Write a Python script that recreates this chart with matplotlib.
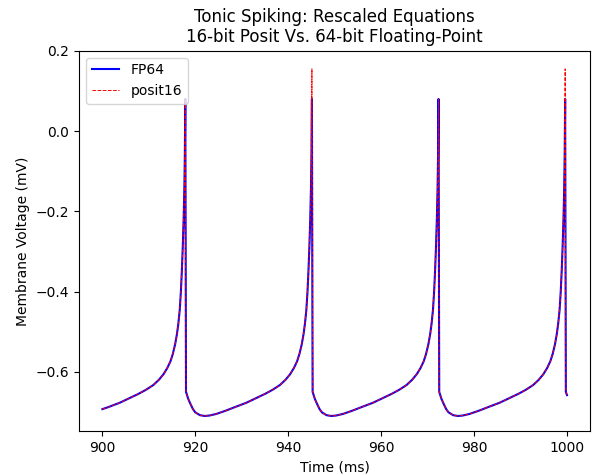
import matplotlib
matplotlib.use('Agg')
import matplotlib.pyplot as plt

# Temps (ms), par cycle (remise à zéro -> pic)
t_debut = [900.0, 901.25, 903.75, 905.75, 907.75, 909.35, 910.95, 912.15, 913.15, 913.95,
           914.65, 915.15, 915.65, 916.05, 916.35, 916.65, 916.9, 917.1, 917.3, 917.5,
           917.65, 917.75, 917.85]
t_cycle1 = [918.0, 918.5, 919.0, 919.5, 920.0, 921.0, 922.0, 923.0, 924.5, 926.5,
            928.5, 931.0, 933.0, 935.0, 936.6, 938.2, 939.4, 940.4, 941.2, 941.9,
            942.4, 942.9, 943.3, 943.6, 943.9, 944.15, 944.35, 944.55, 944.75, 944.9,
            945.0, 945.1]
t_cycle2 = [945.25, 945.75, 946.25, 946.75, 947.25, 948.25, 949.25, 950.25, 951.75, 953.75,
            955.75, 958.25, 960.25, 962.25, 963.85, 965.45, 966.65, 967.65, 968.45, 969.15,
            969.65, 970.15, 970.55, 970.85, 971.15, 971.4, 971.6, 971.8, 972.0, 972.15,
            972.25, 972.35]
t_cycle3 = [972.5, 973.0, 973.5, 974.0, 974.5, 975.5, 976.5, 977.5, 979.0, 981.0,
            983.0, 985.5, 987.5, 989.5, 991.1, 992.7, 993.9, 994.9, 995.7, 996.4,
            996.9, 997.4, 997.8, 998.1, 998.4, 998.65, 998.85, 999.05, 999.25, 999.4,
            999.5, 999.6]
t_fin = [999.75, 1000.0]

# Tension FP64 (V rescalée)
v_debut = [-0.693, -0.688, -0.677, -0.666, -0.655, -0.645, -0.633, -0.620, -0.606, -0.591,
           -0.574, -0.556, -0.532, -0.506, -0.480, -0.446, -0.400, -0.350, -0.290, -0.215,
           -0.140, -0.060, 0.080]
v_cycle1 = [-0.650, -0.668, -0.681, -0.693, -0.701, -0.708, -0.710, -0.709, -0.705, -0.697,
            -0.688, -0.677, -0.666, -0.655, -0.645, -0.633, -0.620, -0.606, -0.591, -0.574,
            -0.556, -0.532, -0.506, -0.480, -0.446, -0.400, -0.350, -0.290, -0.215, -0.140,
            -0.060, 0.080]
v_cycle2 = [-0.650, -0.668, -0.681, -0.693, -0.701, -0.708, -0.710, -0.709, -0.705, -0.697,
            -0.688, -0.677, -0.666, -0.655, -0.645, -0.633, -0.620, -0.606, -0.591, -0.574,
            -0.556, -0.532, -0.506, -0.480, -0.446, -0.400, -0.350, -0.290, -0.215, -0.140,
            -0.060, 0.080]
v_cycle3 = [-0.650, -0.668, -0.681, -0.693, -0.701, -0.708, -0.710, -0.709, -0.705, -0.697,
            -0.688, -0.677, -0.666, -0.655, -0.645, -0.633, -0.620, -0.606, -0.591, -0.574,
            -0.556, -0.532, -0.506, -0.480, -0.446, -0.400, -0.350, -0.290, -0.215, -0.140,
            -0.060, 0.080]
v_fin = [-0.650, -0.658]

# Tension posit16 : identique sauf pics 2 et 4
p_cycle1 = v_cycle1[:-1] + [0.155]
p_cycle3 = v_cycle3[:-1] + [0.155]

temps = t_debut + t_cycle1 + t_cycle2 + t_cycle3 + t_fin
fp64 = v_debut + v_cycle1 + v_cycle2 + v_cycle3 + v_fin
posit16 = v_debut + p_cycle1 + v_cycle2 + p_cycle3 + v_fin

fig = plt.figure(figsize=(5.95, 4.75), dpi=100)
fig.subplots_adjust(left=0.133, right=0.992, bottom=0.093, top=0.893)
ax = fig.add_subplot(111)

ax.plot(temps, fp64, 'b-', linewidth=1.5, label='FP64')
ax.plot(temps, posit16, 'r--', linewidth=0.7, label='posit16')

ax.set_xlim(895, 1005)
ax.set_ylim(-0.747, 0.2)
ax.set_xlabel('Time (ms)')
ax.set_ylabel('Membrane Voltage (mV)')
ax.set_title('Tonic Spiking: Rescaled Equations\n16-bit Posit Vs. 64-bit Floating-Point')
ax.legend(loc='upper left')

fig.savefig('out.png')
